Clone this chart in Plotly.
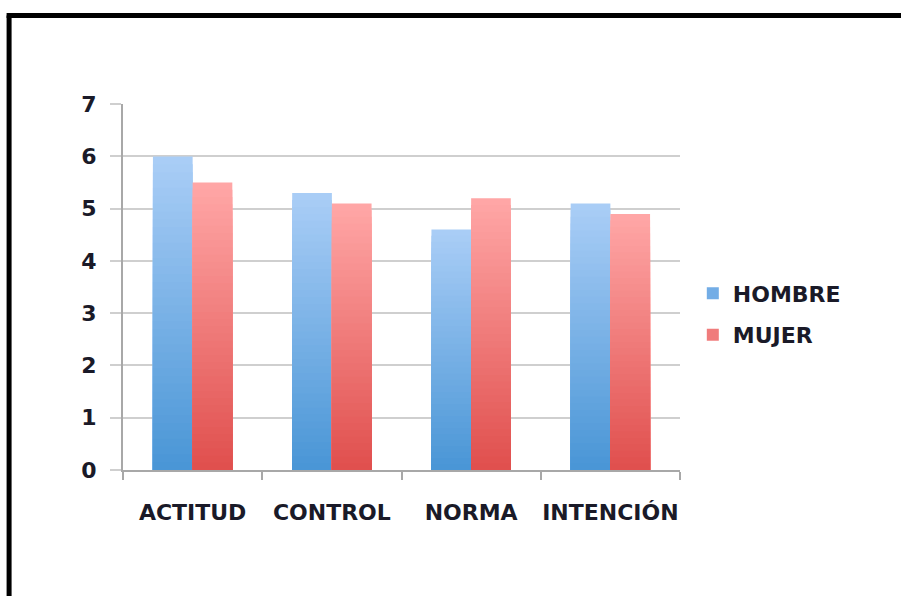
import plotly.graph_objects as go

categories = ["ACTITUD", "CONTROL", "NORMA", "INTENCIÓN"]
hombre = [6.0, 5.3, 4.6, 5.1]
mujer = [5.5, 5.1, 5.2, 4.9]
y_ticks = [0, 1, 2, 3, 4, 5, 6, 7]

series = [
    ("HOMBRE", hombre, (0xA9, 0xCD, 0xF6), (0x4A, 0x96, 0xD6), "#73ADE6"),
    ("MUJER", mujer, (0xFF, 0xA6, 0xA6), (0xE0, 0x50, 0x4E), "#F07C7C"),
]

N = 40
FONT = "DejaVu Sans"
TXT = dict(family=FONT, size=22, color="#1a1a28", weight="bold")
fig = go.Figure()

for name, vals, top, bot, mid in series:
    # overlapping bars, each shorter one darker -> vertical gradient
    for k in range(N):
        f = k / (N - 1)
        c = tuple(round(top[i] + (bot[i] - top[i]) * f) for i in range(3))
        frac = 1 - k / N
        fig.add_trace(go.Bar(
            x=categories, y=[v * frac for v in vals], base=0,
            offsetgroup=name, marker=dict(color="rgb(%d,%d,%d)" % c, line=dict(width=0)),
            showlegend=False, hoverinfo="skip",
        ))
    fig.add_trace(go.Bar(
        x=categories, y=[None] * len(categories), name=name, offsetgroup=name,
        legendgroup=name, marker=dict(color=mid, line=dict(width=0)),
    ))

fig.update_layout(
    width=901, height=596,
    margin=dict(l=123, r=221, t=104, b=126, autoexpand=False),
    paper_bgcolor="white", plot_bgcolor="white",
    barmode="group", bargap=0.43, bargroupgap=0,
    font=TXT,
    showlegend=True,
    legend=dict(x=1.023, xanchor="left", y=0.425, yanchor="middle",
                font=TXT, tracegroupgap=10, traceorder="grouped",
                bgcolor="rgba(0,0,0,0)"),
    xaxis=dict(type="category", tickson="boundaries", ticks="outside", ticklen=8,
               tickcolor="#A8A8A8", tickwidth=2, showline=True, linecolor="#A8A8A8",
               linewidth=2, showgrid=False, ticklabelstandoff=22, tickfont=TXT,
               tickangle=0, automargin=False),
    yaxis=dict(range=[0, 7.004], tickvals=y_ticks, ticks="outside", ticklen=11,
               tickcolor="#CFCFCF", tickwidth=2, showline=True, linecolor="#A8A8A8",
               linewidth=2, showgrid=True, gridcolor="#CFCFCF", gridwidth=2,
               zeroline=False, ticklabelstandoff=9, tickfont=TXT, automargin=False),
    shapes=[
        dict(type="line", xref="paper", yref="paper", x0=-0.2045, x1=-0.2045,
             y0=-0.5, y1=1.2418, line=dict(color="black", width=5)),
        dict(type="line", xref="paper", yref="paper", x0=-0.209, x1=1.5,
             y0=1.2418, y1=1.2418, line=dict(color="black", width=5)),
    ],
)

fig.write_html("out.html")
